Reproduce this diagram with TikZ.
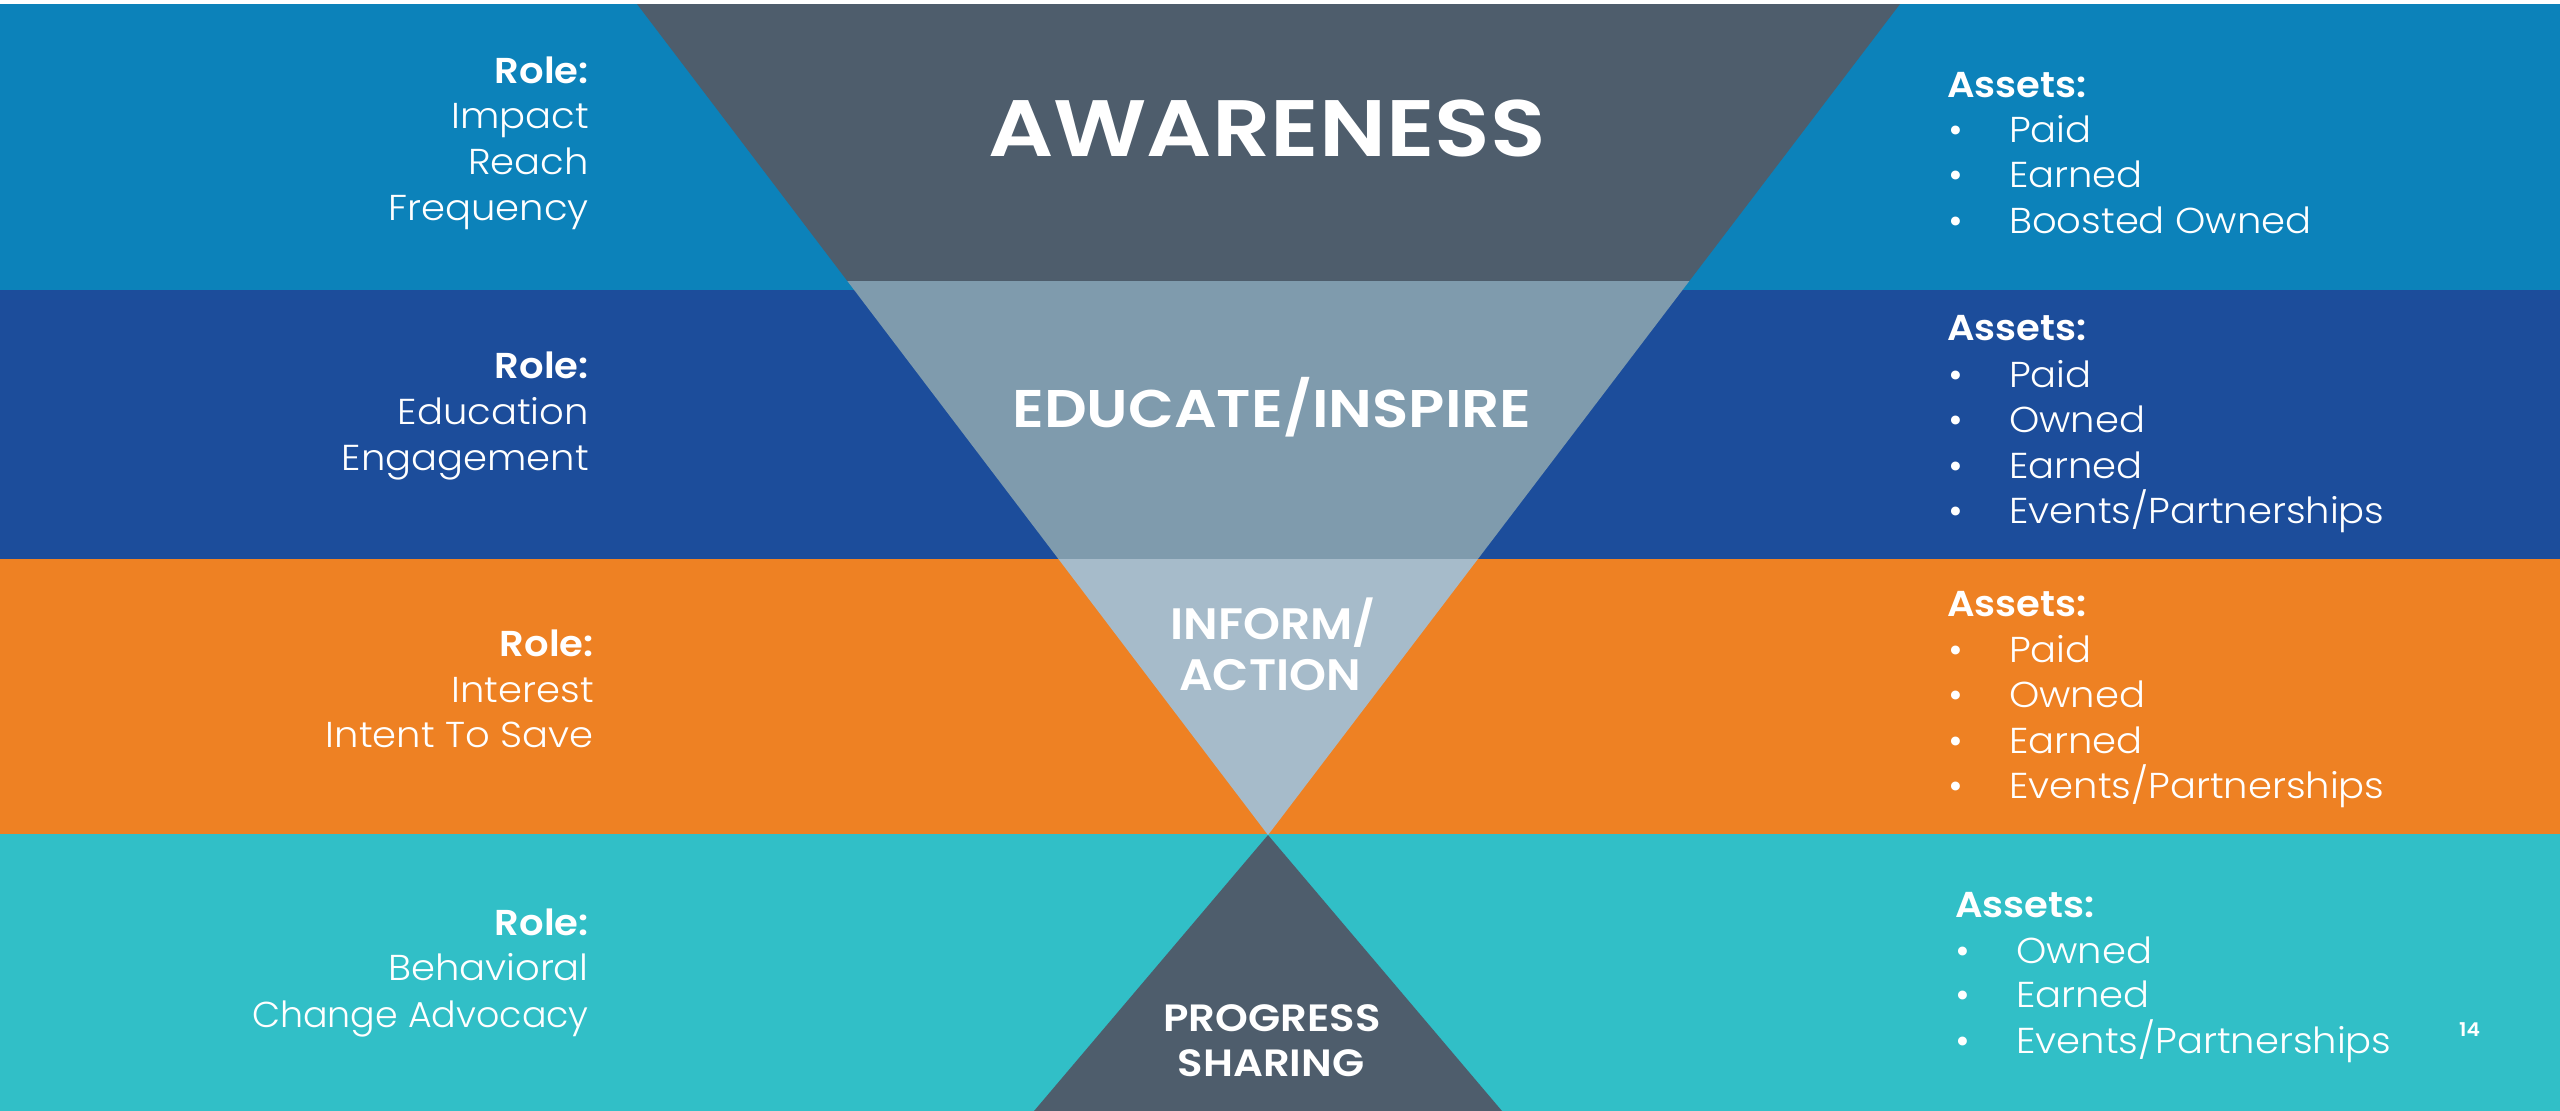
\documentclass[tikz,border=0pt]{standalone}
\usepackage{fontspec}
\setmainfont{Poppins}
\newfontfamily\lightfont{Poppins Light}[FakeStretch=1.07]
\newfontfamily\semibfont{Poppins SemiBold}[FakeStretch=1.07]
\newfontfamily\titlefont{Poppins SemiBold}
\definecolor{bandA}{HTML}{0C82BA}
\definecolor{bandB}{HTML}{1C4D9B}
\definecolor{bandC}{HTML}{EE8123}
\definecolor{bandD}{HTML}{31BFC7}
\definecolor{slate}{HTML}{4E5D6C}
\definecolor{midgray}{HTML}{7F9BAD}
\definecolor{lightgray}{HTML}{A6BBCA}
\tikzset{
  rolehead/.style={anchor=base east, inner sep=0pt, text=white, font=\semibfont\fontsize{36}{36}\selectfont},
  roleitem/.style={anchor=base east, inner sep=0pt, text=white, font=\lightfont\fontsize{36}{36}\selectfont},
  assethead/.style={anchor=base west, inner sep=0pt, text=white, font=\semibfont\fontsize{36}{36}\selectfont},
  assetitem/.style={anchor=base west, inner sep=0pt, text=white, font=\lightfont\fontsize{36}{36}\selectfont},
  stagetitle/.style={anchor=base, inner sep=0pt, text=white},
}
\newcommand{\blt}[1]{\makebox[61pt][l]{\fontspec{Poppins}\textbullet}#1}
\begin{document}
\begin{tikzpicture}[x=1pt,y=-1pt]
\useasboundingbox (0,0) rectangle (2560,1111);
\fill[white] (0,0) rectangle (2560,1111);
% bands
\fill[bandA] (0,4) rectangle (2560,290);
\fill[bandB] (0,290) rectangle (2560,559);
\fill[bandC] (0,559) rectangle (2560,834);
\fill[bandD] (0,834) rectangle (2560,1111);
% funnel
\coordinate (tl) at (637,4);
\coordinate (tr) at (1900,4);
\coordinate (apex) at (1268,835);
\begin{scope}
  \clip (tl) -- (tr) -- (apex) -- cycle;
  \fill[slate] (600,0) rectangle (1950,281);
  \fill[midgray] (600,281) rectangle (1950,559);
  \fill[lightgray] (600,559) rectangle (1950,840);
\end{scope}
% bottom triangle
\fill[slate] (apex) -- (1502,1111) -- (1034,1111) -- cycle;

% stage titles
\node[stagetitle, font=\titlefont\fontsize{80}{80}\selectfont] (aw) at (1267,156) {\scalebox{1.14}[1]{AWARENESS}};
\node[stagetitle, font=\titlefont\fontsize{53}{53}\selectfont] (ed) at (1272,427) {\scalebox{1.125}[1]{EDUCATE/INSPIRE}};
\node[stagetitle, font=\titlefont\fontsize{44}{44}\selectfont] (inf) at (1273,639) {\scalebox{1.07}[1]{INFORM/}};
\node[stagetitle, font=\titlefont\fontsize{44}{44}\selectfont] (act) at (1270,690) {\scalebox{1.07}[1]{ACTION}};
\node[stagetitle, font=\titlefont\fontsize{38}{38}\selectfont] (prg) at (1272,1031) {\scalebox{1.1}[1]{PROGRESS}};
\node[stagetitle, font=\titlefont\fontsize{38}{38}\selectfont] (shr) at (1271,1076) {\scalebox{1.1}[1]{SHARING}};

% roles
\node[rolehead] (r1h) at (589,83) {Role:};
\node[roleitem] (r1a) at (589,128) {Impact};
\node[roleitem] (r1b) at (589,174) {Reach};
\node[roleitem] (r1c) at (589,220) {Frequency};

\node[rolehead] (r2h) at (589,378) {Role:};
\node[roleitem] (r2a) at (589,424) {Education};
\node[roleitem] (r2b) at (589,470) {Engagement};

\node[rolehead] (r3h) at (594,656) {Role:};
\node[roleitem] (r3a) at (594,702) {Interest};
\node[roleitem] (r3b) at (594,747) {Intent To Save};

\node[rolehead] (r4h) at (589,935) {Role:};
\node[roleitem] (r4a) at (589,980) {Behavioral};
\node[roleitem] (r4b) at (589,1027) {\scalebox{0.945}[1]{Change Advocacy}};

% assets
\node[assethead] (a1h) at (1947,97) {Assets:};
\node[assetitem] (a1a) at (1948,142) {\blt{Paid}};
\node[assetitem] (a1b) at (1948,187) {\blt{Earned}};
\node[assetitem] (a1c) at (1948,233) {\blt{Boosted Owned}};

\node[assethead] (a2h) at (1947,340) {Assets:};
\node[assetitem] (a2a) at (1948,387) {\blt{Paid}};
\node[assetitem] (a2b) at (1948,432) {\blt{Owned}};
\node[assetitem] (a2c) at (1948,478) {\blt{Earned}};
\node[assetitem] (a2d) at (1948,523) {\blt{Events/Partnerships}};

\node[assethead] (a3h) at (1947,616) {Assets:};
\node[assetitem] (a3a) at (1948,662) {\blt{Paid}};
\node[assetitem] (a3b) at (1948,707) {\blt{Owned}};
\node[assetitem] (a3c) at (1948,753) {\blt{Earned}};
\node[assetitem] (a3d) at (1948,798) {\blt{Events/Partnerships}};

\node[assethead] (a4h) at (1955,917) {Assets:};
\node[assetitem] (a4a) at (1955,963) {\blt{Owned}};
\node[assetitem] (a4b) at (1955,1007) {\blt{Earned}};
\node[assetitem] (a4c) at (1955,1053) {\blt{Events/Partnerships}};

\node[anchor=base west, inner sep=0pt, text=white, font=\semibfont\fontsize{19}{19}\selectfont] (pg) at (2459,1036) {14};
\end{tikzpicture}
\end{document}
